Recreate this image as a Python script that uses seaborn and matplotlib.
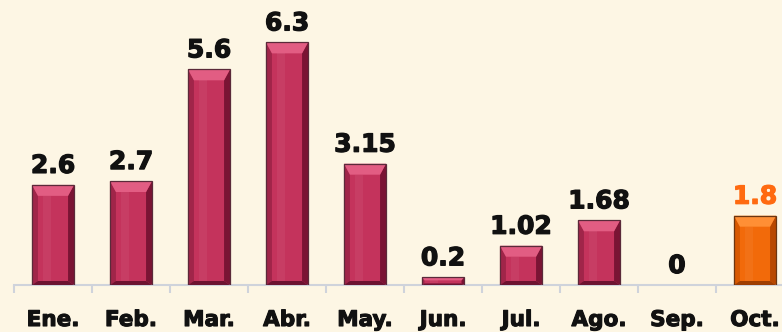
import matplotlib
matplotlib.use("Agg")
import matplotlib.pyplot as plt
from matplotlib.patches import Polygon
import matplotlib.patheffects as pe
import seaborn as sns
import pandas as pd

# Monthly values
months = ["Ene.", "Feb.", "Mar.", "Abr.", "May.", "Jun.", "Jul.", "Ago.", "Sep.", "Oct."]
values = [2.6, 2.7, 5.6, 6.3, 3.15, 0.2, 1.02, 1.68, 0, 1.8]
value_labels = ["2.6", "2.7", "5.6", "6.3", "3.15", "0.2", "1.02", "1.68", "0", "1.8"]
highlight = "Oct."

BG = "#fdf6e4"
AXIS_GREY = "#cfd3db"

# face, top bevel, left side, right side, bottom bevel, outline
PALETTES = {
    "base": ["#c4335c", "#e25d83", "#a02549", "#7a1434", "#6d1230", "#5b2a3a"],
    "hi":   ["#f26a0a", "#ff8f35", "#d85800", "#b84800", "#a03e00", "#6b3510"],
}

df = pd.DataFrame({"month": months, "value": values})
df["kind"] = ["hi" if m == highlight else "base" for m in months]

sns.set_theme(style="white")
plt.rcParams["font.family"] = ["DejaVu Sans"]

W, H = 782, 332
fig = plt.figure(figsize=(W / 100, H / 100), dpi=100, facecolor=BG)
ax = fig.add_axes([14 / W, 47 / H, 780 / W, 285 / H])
ax.set_facecolor(BG)

sns.barplot(data=df, x="month", y="value", hue="kind",
            palette={k: v[0] for k, v in PALETTES.items()},
            width=0.54, dodge=False, legend=False, ax=ax,
            edgecolor="none", linewidth=0, saturation=1)

YMAX = 7.4
ax.set_xlim(-0.5, 9.5)
ax.set_ylim(0, YMAX)

# pixel -> data conversions for bevel sizes
px_x = 10 / 780.0
px_y = YMAX / 285.0

for patch, kind in zip(ax.patches, df["kind"]):
    x0, y0 = patch.get_x(), patch.get_y()
    w, h = patch.get_width(), patch.get_height()
    if h <= 0:
        continue
    face, top, left, right, bottom, edge = PALETTES[kind]
    hpx = h / px_y
    side = min(6, hpx / 3) * px_x
    topb = min(11, hpx / 2.5) * px_y
    botb = min(4, hpx / 5) * px_y
    x1, y1 = x0 + w, y0 + h
    polys = [
        ([(x0, y0), (x0 + side, y0 + botb), (x0 + side, y1 - topb), (x0, y1)], left),
        ([(x1, y0), (x1 - side, y0 + botb), (x1 - side, y1 - topb), (x1, y1)], right),
        ([(x0, y1), (x0 + side, y1 - topb), (x1 - side, y1 - topb), (x1, y1)], top),
        ([(x0, y0), (x0 + side, y0 + botb), (x1 - side, y0 + botb), (x1, y0)], bottom),
    ]
    for pts, col in polys:
        ax.add_patch(Polygon(pts, closed=True, facecolor=col, edgecolor="none", zorder=3))
    # soft vertical highlight on the front face
    ax.add_patch(Polygon([(x0 + side + w * 0.12, y0 + botb), (x0 + side + w * 0.32, y0 + botb),
                          (x0 + side + w * 0.32, y1 - topb), (x0 + side + w * 0.12, y1 - topb)],
                         closed=True, facecolor="white", alpha=0.05, edgecolor="none", zorder=3))
    ax.add_patch(Polygon([(x0, y0), (x1, y0), (x1, y1), (x0, y1)], closed=True,
                         facecolor="none", edgecolor=edge, linewidth=0.9, zorder=4))

# value labels
for i, (v, lab, kind) in enumerate(zip(values, value_labels, df["kind"])):
    color = "#ff6a10" if kind == "hi" else "#111111"
    ax.annotate(lab, xy=(i, v), xytext=(0, 5), textcoords="offset points",
                ha="center", va="bottom", fontsize=18, fontweight="bold",
                color=color, zorder=5,
                path_effects=[pe.withStroke(linewidth=0.9, foreground=color)])

# axes styling
for s in ["left", "right", "top"]:
    ax.spines[s].set_visible(False)
ax.spines["bottom"].set_color(AXIS_GREY)
ax.spines["bottom"].set_linewidth(1.5)
ax.set_yticks([])
ax.set_xlabel("")
ax.set_ylabel("")
ax.set_xticks(range(len(months)))
ax.set_xticklabels(months, fontsize=15.5, fontweight="bold", color="#111111")
for t in ax.get_xticklabels():
    t.set_path_effects([pe.withStroke(linewidth=0.8, foreground="#111111")])
ax.tick_params(axis="x", which="major", length=0, pad=18, bottom=True)
ax.set_xticks([i - 0.5 for i in range(len(months) + 1)], minor=True)
ax.tick_params(axis="x", which="minor", bottom=True, length=6, width=1.5,
               color=AXIS_GREY, direction="out")

fig.savefig("out.png", dpi=100, facecolor=BG)
